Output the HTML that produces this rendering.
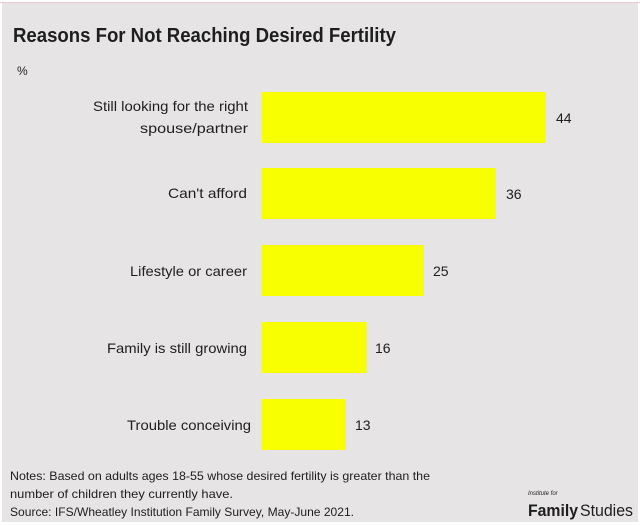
<!DOCTYPE html>
<html><head><meta charset="utf-8"><style>
html,body{margin:0;padding:0;background:#fff;}
svg{display:block;}
text{font-family:"Liberation Sans",sans-serif;fill:#1e1e1e;}
</style></head><body>
<svg width="640" height="526" viewBox="0 0 640 526" xmlns="http://www.w3.org/2000/svg">
<rect x="0" y="0" width="640" height="526" fill="#fff"/>
<rect x="2" y="3" width="636" height="519" fill="#e6e4e5"/>
<line x1="0" y1="2.5" x2="640" y2="2.5" stroke="#e8c8d0" stroke-width="1"/>
<text x="13" y="42" font-size="20" font-weight="bold" textLength="383" lengthAdjust="spacingAndGlyphs">Reasons For Not Reaching Desired Fertility</text>
<text x="17" y="75" font-size="12">%</text>
<g fill="#f8ff00">
<rect x="262" y="92" width="284" height="51"/>
<rect x="262" y="168" width="234" height="51"/>
<rect x="262" y="245" width="162" height="51"/>
<rect x="262" y="322" width="105" height="51"/>
<rect x="262" y="399" width="84" height="51"/>
</g>
<g font-size="14" text-anchor="end">
<text x="248" y="111" textLength="155" lengthAdjust="spacingAndGlyphs">Still looking for the right</text>
<text x="248" y="133" textLength="108" lengthAdjust="spacingAndGlyphs">spouse/partner</text>
<text x="247" y="198" textLength="79" lengthAdjust="spacingAndGlyphs">Can't afford</text>
<text x="247" y="276" textLength="117" lengthAdjust="spacingAndGlyphs">Lifestyle or career</text>
<text x="247" y="353" textLength="140" lengthAdjust="spacingAndGlyphs">Family is still growing</text>
<text x="251" y="430" textLength="124" lengthAdjust="spacingAndGlyphs">Trouble conceiving</text>
</g>
<g font-size="14">
<text x="556" y="123">44</text>
<text x="506" y="199">36</text>
<text x="433" y="276">25</text>
<text x="375" y="353">16</text>
<text x="355" y="430">13</text>
</g>
<g font-size="12">
<text x="10" y="480" textLength="420" lengthAdjust="spacingAndGlyphs">Notes: Based on adults ages 18-55 whose desired fertility is greater than the</text>
<text x="10" y="498" textLength="223" lengthAdjust="spacingAndGlyphs">number of children they currently have.</text>
<text x="10" y="516" textLength="344" lengthAdjust="spacingAndGlyphs">Source: IFS/Wheatley Institution Family Survey, May-June 2021.</text>
</g>
<text x="528" y="495" font-size="6" font-style="italic" fill="#555">Institute for</text>
<text x="528" y="516" font-size="17" font-weight="bold" textLength="50" lengthAdjust="spacingAndGlyphs">Family</text>
<text x="580" y="516" font-size="17" fill="#666" textLength="53" lengthAdjust="spacingAndGlyphs">Studies</text>
</svg>
</body></html>
